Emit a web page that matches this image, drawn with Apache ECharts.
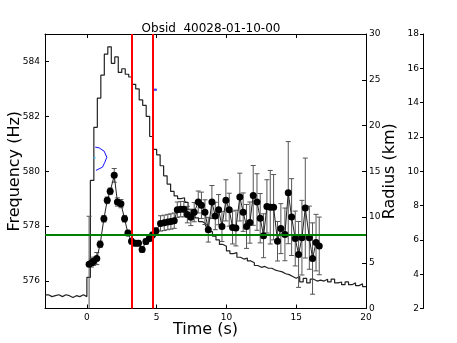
<!DOCTYPE html>
<html>
<head>
<meta charset="utf-8">
<script src="https://cdn.jsdelivr.net/npm/echarts@6/dist/echarts.min.js"></script>
<style>
html,body{margin:0;padding:0;background:#fff;}
#chart{width:457px;height:343px;}
</style>
</head>
<body>
<div id="chart"></div>
<script>
// ---- Data ----
const titleText = 'Obsid  40028-01-10-00';
const xTicks = [0, 5, 10, 15, 20];
const topTicks = [0, 5, 10, 15];
const freqTicks = [576, 578, 580, 582, 584];

// Frequency measurements (time s, frequency Hz, error Hz)
const ptTime = [0.16,0.33,0.48,0.71,0.95,1.22,1.46,1.67,1.96,2.19,2.44,2.70,2.94,3.20,3.46,3.70,3.96,4.23,4.47,4.70,4.95,5.28,5.54,5.80,6.02,6.26,6.48,6.72,6.95,7.20,7.45,7.69,7.98,8.21,8.46,8.70,8.96,9.20,9.44,9.68,9.96,10.20,10.44,10.68,10.96,11.20,11.44,11.68,11.92,12.19,12.42,12.66,12.90,13.14,13.38,13.66,13.90,14.19,14.43,14.67,14.93,15.17,15.41,15.65,15.94,16.17,16.42,16.65];
const ptFreq = [576.61,576.66,576.72,576.82,577.34,578.27,578.94,579.27,579.85,578.88,578.82,578.27,577.75,577.45,577.38,577.38,577.15,577.44,577.55,577.68,577.83,578.10,578.12,578.15,578.17,578.20,578.60,578.62,578.62,578.42,578.32,578.51,578.88,578.76,578.51,577.87,578.88,578.37,578.60,577.99,578.94,578.60,577.95,577.93,579.06,578.51,577.99,578.13,579.12,578.88,578.29,577.65,578.72,578.69,578.69,577.45,577.91,577.70,579.22,578.33,577.55,576.97,577.58,578.66,577.58,576.82,577.40,577.28];
const ptErr = [1.75,0.15,0.15,0.22,0.12,0.12,0.12,0.12,0.25,0.15,0.15,0.12,0.10,0.10,0.10,0.10,0.10,0.10,0.10,0.10,0.10,0.28,0.28,0.28,0.28,0.28,0.28,0.28,0.28,0.30,0.30,0.35,0.40,0.48,0.45,0.45,0.60,0.50,0.55,0.55,0.75,0.60,0.60,0.65,0.87,0.70,0.80,0.75,1.09,1.03,0.90,0.80,0.97,1.34,1.19,0.72,0.91,0.96,1.86,1.40,1.00,1.20,1.36,1.82,1.15,1.30,1.03,1.05];

// Light curve histogram (bin start time s, rate on 0-30 axis)
const binStart = [-3.00,-2.75,-2.50,-2.25,-2.00,-1.75,-1.50,-1.25,-1.00,-0.75,-0.50,-0.25,0.00,0.25,0.50,0.75,1.00,1.25,1.50,1.75,2.00,2.25,2.50,2.75,3.00,3.25,3.50,3.75,4.00,4.25,4.50,4.75,5.00,5.25,5.50,5.75,6.00,6.25,6.50,6.75,7.00,7.25,7.50,7.75,8.00,8.25,8.50,8.75,9.00,9.25,9.50,9.75,10.00,10.25,10.50,10.75,11.00,11.25,11.50,11.75,12.00,12.25,12.50,12.75,13.00,13.25,13.50,13.75,14.00,14.25,14.50,14.75,15.00,15.25,15.50,15.75,16.00,16.25,16.50,16.75,17.00,17.25,17.50,17.75,18.00,18.25,18.50,18.75,19.00,19.25,19.50,19.75,20.00];
const binRate = [1.5,1.3,1.4,1.5,1.3,1.5,1.4,1.2,1.4,1.3,1.5,1.3,3.4,14.0,19.8,23.0,25.5,27.8,28.6,26.8,27.5,25.8,26.2,25.6,25.3,24.5,24.0,22.8,22.2,21.0,18.8,17.4,16.8,15.6,14.5,13.6,12.8,12.3,12.0,12.1,11.6,10.8,10.2,9.9,9.5,9.3,9.0,8.4,7.9,7.5,7.0,6.8,6.3,6.0,6.1,5.6,5.4,5.5,5.2,5.0,4.7,4.5,4.6,4.4,4.4,4.2,4.1,4.0,3.8,3.7,3.5,3.3,3.5,2.9,3.3,2.8,3.2,3.0,3.1,3.0,3.2,2.9,3.2,2.8,2.9,2.6,2.9,2.6,2.8,2.5,2.7,2.4,2.4];

// Blue contour and dots (time, frequency)
const blueT = [0.60,0.88,1.24,1.43,1.29,1.12,0.65];
const blueF = [580.88,580.85,580.73,580.51,580.33,580.15,580.03];
const cyanT = [0.55];
const cyanF = [580.49];
const blueDotT = [4.77,4.86,4.95];
const blueDotF = [582.97,582.97,582.97];

const redLineTimes = [3.23, 4.73];
const greenFreq = 577.67;

// ---- Build chart ----
const FONT = 'DejaVu Sans';
const chart = echarts.init(document.getElementById('chart'), null, {renderer: 'canvas'});

const ptData = ptTime.map((t, i) => [t, ptFreq[i], ptErr[i]]);
const histData = binStart.map((t, i) => [t, binRate[i]]);
const blueData = blueT.map((t, i) => [t, blueF[i]]);
const cyanData = cyanT.map((t, i) => [t, cyanF[i]]);
const blueDotData = blueDotT.map((t, i) => [t, blueDotF[i]]);

const axisLineStyle = {color: '#000', width: 1};

const option = {
  animation: false,
  backgroundColor: '#fff',
  textStyle: {fontFamily: FONT},
  title: {
    text: titleText,
    left: 206, top: 18, textAlign: 'center',
    textStyle: {fontFamily: FONT, fontSize: 12, fontWeight: 'normal', color: '#000'}
  },
  grid: {left: 45, top: 34, width: 321, height: 274.5, containLabel: false, outerBoundsMode: 'none'},
  xAxis: [
    {
      type: 'value', min: -3, max: 20, position: 'bottom',
      axisLine: {show: true, onZero: false, lineStyle: axisLineStyle},
      axisTick: {show: true, inside: true, length: 4, customValues: xTicks, lineStyle: {color: '#000'}},
      axisLabel: {show: true, customValues: xTicks, fontSize: 9, color: '#000', margin: 5, fontFamily: FONT},
      splitLine: {show: false},
      name: 'Time (s)', nameLocation: 'middle', nameGap: 13, nameMoveOverlap: false,
      nameTextStyle: {fontFamily: FONT, fontSize: 16, color: '#000'}
    },
    {
      type: 'value', min: -3, max: 20, position: 'top',
      axisLine: {show: true, onZero: false, lineStyle: axisLineStyle},
      axisTick: {show: true, inside: true, length: 4, customValues: topTicks, lineStyle: {color: '#000'}},
      axisLabel: {show: false},
      splitLine: {show: false}
    }
  ],
  yAxis: [
    {
      type: 'value', min: 575, max: 585, position: 'left',
      axisLine: {show: true, onZero: false, lineStyle: axisLineStyle},
      axisTick: {show: true, inside: true, length: 4, customValues: freqTicks, lineStyle: {color: '#000'}},
      axisLabel: {show: true, customValues: freqTicks, fontSize: 9, color: '#000', margin: 5, fontFamily: FONT},
      splitLine: {show: false},
      name: 'Frequency (Hz)', nameLocation: 'middle', nameGap: 22, nameRotate: 90, nameMoveOverlap: false,
      nameTextStyle: {fontFamily: FONT, fontSize: 16, color: '#000'}
    },
    {
      type: 'value', min: 0, max: 30, interval: 5, position: 'right',
      axisLine: {show: true, onZero: false, lineStyle: axisLineStyle},
      axisTick: {show: true, inside: true, length: 4, lineStyle: {color: '#000'}},
      axisLabel: {show: true, fontSize: 9, color: '#000', margin: 3, fontFamily: FONT},
      splitLine: {show: false},
      name: 'Radius (km)', nameLocation: 'middle', nameGap: 16, nameRotate: 90, nameMoveOverlap: false,
      nameTextStyle: {fontFamily: FONT, fontSize: 16, color: '#000'}
    },
    {
      type: 'value', min: 2, max: 18, interval: 2, position: 'right', offset: 57,
      axisLine: {show: true, onZero: false, lineStyle: axisLineStyle},
      axisTick: {show: true, inside: true, length: 3, lineStyle: {color: '#000'}},
      axisLabel: {show: true, inside: true, fontSize: 9, color: '#000', margin: 4, fontFamily: FONT},
      splitLine: {show: false}
    }
  ],
  series: [
    {
      name: 'lightcurve', type: 'line', xAxisIndex: 0, yAxisIndex: 1,
      data: histData, step: 'end', symbol: 'none',
      lineStyle: {color: '#222', width: 1.2}, z: 2, silent: true
    },
    {
      name: 'errors', type: 'custom', xAxisIndex: 0, yAxisIndex: 0,
      data: ptData, encode: {x: 0, y: 1}, z: 3, silent: true,
      renderItem: function (params, api) {
        const t = api.value(0), f = api.value(1), e = api.value(2);
        const top = api.coord([t, f + e]);
        const bot = api.coord([t, f - e]);
        const cs = params.coordSys;
        const yMax = cs.y + cs.height;
        const children = [];
        const bY = Math.min(bot[1], yMax);
        children.push({type: 'line', shape: {x1: top[0], y1: top[1], x2: top[0], y2: bY}, style: {stroke: '#555', lineWidth: 1}});
        children.push({type: 'line', shape: {x1: top[0] - 2.5, y1: top[1], x2: top[0] + 2.5, y2: top[1]}, style: {stroke: '#555', lineWidth: 1}});
        if (bot[1] <= yMax) {
          children.push({type: 'line', shape: {x1: bot[0] - 2.5, y1: bot[1], x2: bot[0] + 2.5, y2: bot[1]}, style: {stroke: '#555', lineWidth: 1}});
        }
        return {type: 'group', children: children};
      }
    },
    {
      name: 'frequency', type: 'line', xAxisIndex: 0, yAxisIndex: 0,
      data: ptData.map(d => [d[0], d[1]]),
      symbol: 'circle', symbolSize: 7,
      itemStyle: {color: '#000'}, lineStyle: {color: '#222', width: 1}, z: 4, silent: true
    },
    {
      name: 'blue', type: 'line', xAxisIndex: 0, yAxisIndex: 0,
      data: blueData, symbol: 'none', smooth: false,
      lineStyle: {color: '#1010ff', width: 1}, z: 4, silent: true
    },
    {
      name: 'cyan', type: 'scatter', xAxisIndex: 0, yAxisIndex: 0,
      data: cyanData, symbol: 'rect', symbolSize: 2,
      itemStyle: {color: '#40c0ff'}, z: 4, silent: true
    },
    {
      name: 'bluedots', type: 'scatter', xAxisIndex: 0, yAxisIndex: 0,
      data: blueDotData, symbol: 'rect', symbolSize: 2,
      itemStyle: {color: '#2020ff'}, z: 4, silent: true
    },
    {
      name: 'marks', type: 'line', xAxisIndex: 0, yAxisIndex: 0, data: [], z: 6,
      markLine: {
        silent: true, symbol: 'none', animation: false,
        label: {show: false},
        data: [
          ...redLineTimes.map(t => ({xAxis: t, lineStyle: {color: '#ff0000', width: 2, type: 'solid'}})),
          {yAxis: greenFreq, lineStyle: {color: '#008000', width: 2, type: 'solid'}}
        ]
      }
    }
  ]
};
chart.setOption(option);
</script>
</body>
</html>
